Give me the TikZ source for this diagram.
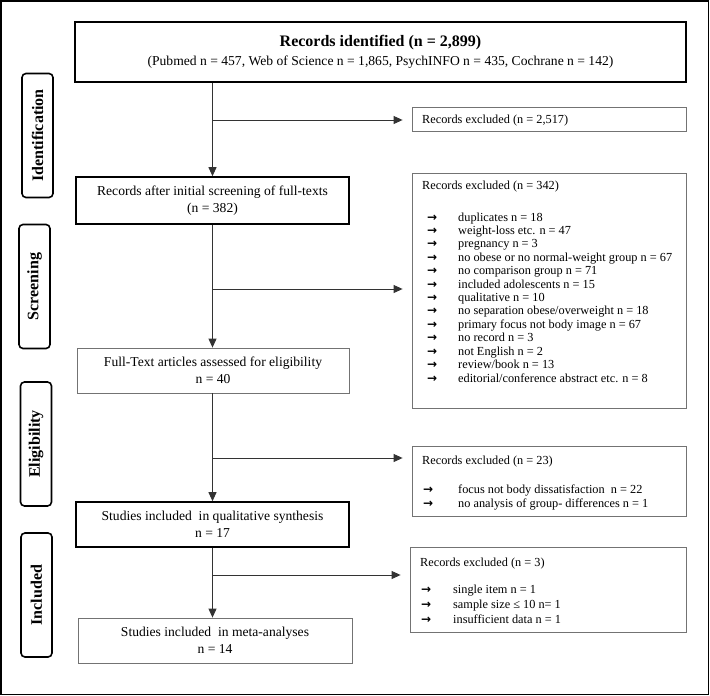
\documentclass[tikz,border=0pt]{standalone}
\usepackage{fontspec}
\setmainfont{Liberation Serif}
\newfontfamily\arrowfont{DejaVu Sans}
\usetikzlibrary{arrows.meta}

\begin{document}
\begin{tikzpicture}[x=1pt,y=-1pt,
    mainbox/.style={draw=black, line width=1.6pt, minimum width=273, minimum height=46,
      inner sep=0, align=center, font=\fontsize{13.6}{17}\selectfont},
    thinbox/.style={mainbox, draw=black!55, line width=0.8pt},
    exbox/.style={draw=black!55, line width=0.8pt, minimum width=274, inner sep=0},
    sidebox/.style={draw=black, line width=1.6pt, rounded corners=4pt, rotate=90,
      minimum width=124, minimum height=31, inner sep=0, font=\bfseries\fontsize{16}{18}\selectfont},
    itemtxt/.style={anchor=base west, inner sep=0, font=\fontsize{12.3}{13.5}\selectfont},
    arrowtxt/.style={itemtxt, font=\arrowfont\bfseries\fontsize{12}{13.5}\selectfont},
    flow/.style={draw=black!80, line width=0.9pt, >={Triangle[length=9pt,width=8pt]}}]
  \useasboundingbox (0,0) rectangle (710,696);
  \path[draw, line width=1.2pt] (1,1) rectangle (708.5,694.5);

  \node[sidebox] (sideid) at (37.5,135.5) {Identification};
  \node[sidebox] (sidescr) at (34.5,286.5) {Screening};
  \node[sidebox] (sideel) at (36,444) {Eligibility};
  \node[sidebox] (sidein) at (36.5,595) {Included};

  \node[mainbox, minimum width=611, minimum height=60, font=\fontsize{13.6}{19}\selectfont] (ident) at (380.5,52)
    {{\bfseries\fontsize{16}{19}\selectfont Records identified (n = 2,899)}\\
     (Pubmed n = 457, Web of Science n = 1,865, PsychINFO n = 435, Cochrane n = 142)};
  \node[mainbox, minimum height=47] (screen) at (212.5,200.5)
    {Records after initial screening of full-texts\\(n = 382)};
  \node[thinbox, minimum width=272, minimum height=45] (elig) at (213,370.5)
    {Full-Text articles assessed for eligibility\\n = 40};
  \node[mainbox, minimum height=45] (qual) at (212.5,524.5)
    {Studies included\enspace in qualitative synthesis\\n = 17};
  \node[thinbox, minimum width=274, minimum height=45] (meta) at (215,640.5)
    {Studies included\enspace in meta-analyses\\n = 14};

  \node[exbox, minimum height=24] (excl1) at (549,119) {};
  \node[itemtxt] (excl1t) at (422,123) {Records excluded (n = 2,517)};

  \node[exbox, minimum height=235] (excl2) at (549,290.5) {};
  \node[itemtxt] (excl2t) at (422,189) {Records excluded (n = 342)};
  \foreach \txt [count=\i] in {duplicates n = 18, weight-loss etc. n = 47, pregnancy n = 3,
      no obese or no normal-weight group n = 67, no comparison group n = 71,
      included adolescents n = 15, qualitative n = 10, no separation obese/overweight n = 18,
      primary focus not body image n = 67, no record n = 3, not English n = 2,
      review/book n = 13, editorial/conference abstract etc. n = 8}{
    \node[arrowtxt] (excl2a\i) at (427,207.6+13.42*\i) {→};
    \node[itemtxt] (excl2i\i) at (458,207.6+13.42*\i) {\txt};
  }

  \node[exbox, minimum height=70] (excl3) at (549,481) {};
  \node[itemtxt] (excl3t) at (422,464) {Records excluded (n = 23)};
  \foreach \txt [count=\i] in {focus not body dissatisfaction\enspace n = 22,
      no analysis of group- differences n = 1}{
    \node[arrowtxt] (excl3a\i) at (423,479+14*\i) {→};
    \node[itemtxt] (excl3i\i) at (458,479+14*\i) {\txt};
  }

  \node[exbox, minimum width=276, minimum height=85] (excl4) at (548,589.5) {};
  \node[itemtxt] (excl4t) at (420,566) {Records excluded (n = 3)};
  \foreach \txt [count=\i] in {single item n = 1, sample size ≤ 10 n= 1, insufficient data n = 1}{
    \node[arrowtxt] (excl4a\i) at (421,578+15*\i) {→};
    \node[itemtxt] (excl4i\i) at (453,578+15*\i) {\txt};
  }

  \coordinate (b1) at (212.5,120);
  \coordinate (b2) at (212.5,289);
  \coordinate (b3) at (212.5,458);
  \coordinate (b4) at (212.5,575);

  \path[draw,flow,->] (ident.south -| screen.north) -- (screen.north);
  \path[draw,flow,->] (screen.south) -- (screen.south |- elig.north);
  \path[draw,flow,->] (elig.south -| screen.south) -- (screen.south |- qual.north);
  \path[draw,flow,->] (qual.south) -- (qual.south |- meta.north);
  \path[draw,flow,->,shorten >=9pt] (b1) -- (b1 -| excl1.west);
  \path[draw,flow,->,shorten >=9pt] (b2) -- (b2 -| excl2.west);
  \path[draw,flow,->,shorten >=9pt] (b3) -- (b3 -| excl3.west);
  \path[draw,flow,->,shorten >=9pt] (b4) -- (b4 -| excl4.west);
\end{tikzpicture}
\end{document}
